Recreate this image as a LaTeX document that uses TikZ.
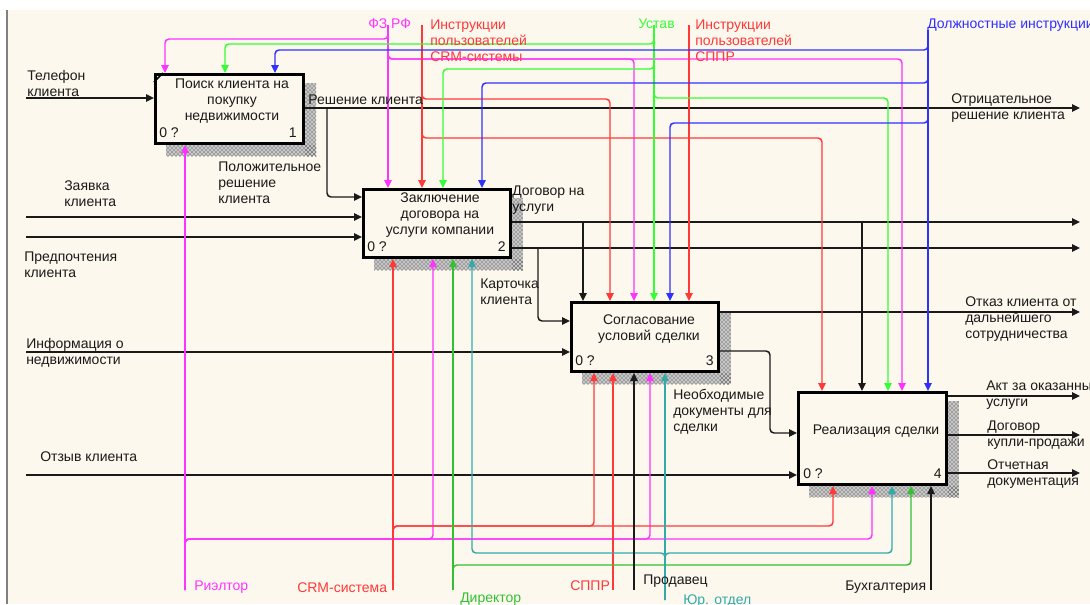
\documentclass[tikz,border=0pt]{standalone}
\usepackage{fontspec}
\usetikzlibrary{arrows.meta,calc,patterns}
\newfontfamily\lsans{Liberation Sans}
\newcommand\labfont{\lsans\fontsize{10.5pt}{12pt}\selectfont}
\definecolor{cream}{HTML}{FDF8EE}
\definecolor{cmag}{HTML}{FF33FF}
\definecolor{cred}{HTML}{FF3838}
\definecolor{cgreen}{HTML}{33FF33}
\definecolor{cdgreen}{HTML}{33C033}
\definecolor{cteal}{HTML}{33AAAA}
\definecolor{cblue}{HTML}{3030FF}
\definecolor{cink}{HTML}{1A1A1A}
\pgfdeclarelayer{background}
\pgfsetlayers{background,main}
\tikzset{
  box/.style={draw=black, line width=2.25pt, anchor=north west, inner sep=0pt},
  btxt/.style={font=\labfont, text=cink, align=center, inner sep=0pt},
  lbl/.style={font=\labfont, text=cink, align=left, inner sep=0pt, anchor=base west},
  numl/.style={font=\labfont, text=cink, inner sep=0pt, anchor=base west},
  numr/.style={font=\labfont, text=cink, inner sep=0pt, anchor=base east},
  flow/.style={line width=1.1pt, rounded corners=3pt},
  arr/.style={flow, -{Triangle[length=6pt,width=5.5pt]}},
  shadebase/.style={fill=gray!45},
  shade/.style={pattern=crosshatch dots, pattern color=black!85},
}
\begin{document}
\begin{tikzpicture}[x=0.75pt,y=-0.75pt]
\useasboundingbox (0,0) rectangle (1090,604);

% boxes
\node[box, minimum width=111pt, minimum height=51.75pt] (b1) at (154,73) {};
\node[box, minimum width=110.25pt, minimum height=51pt] (b2) at (362,188) {};
\node[box, minimum width=110.25pt, minimum height=51.75pt] (b3) at (570,301) {};
\node[box, minimum width=111pt, minimum height=69pt] (b4) at (797,391) {};

\begin{pgfonlayer}{background}
  \fill[white] (0,0) rectangle (1090,604);
  \fill[cream] (7,10) rectangle (1090,604);
  \draw[gray, line width=0.8pt] (7,10) -- (7,604);
  \foreach \b in {b1,b2,b3,b4}{
    \fill[shadebase] ($(\b.north east)+(0,10)$) rectangle ($(\b.south east)+(11,11)$);
    \fill[shadebase] ($(\b.south west)+(12,0)$) rectangle ($(\b.south east)+(11,11)$);
    \fill[shade] ($(\b.north east)+(0,10)$) rectangle ($(\b.south east)+(11,11)$);
    \fill[shade] ($(\b.south west)+(12,0)$) rectangle ($(\b.south east)+(11,11)$);
    \fill[cream] (\b.north west) rectangle (\b.south east);
  }
\end{pgfonlayer}
\draw[line width=1.2pt] ($(b1.north west)+(0,9)$) -- ($(b1.north west)+(9,0)$);

% box texts
\node[btxt] (t1) at (232,101) {Поиск клиента на\\покупку\\недвижимости};
\node[btxt] (t2) at (440,215) {Заключение\\договора на\\услуги компании};
\node[btxt] (t3) at (649,329) {Согласование\\условий сделки};
\node[btxt] (t4) at (876,431) {Реализация сделки};
\node[numl] (n1a) at (159,137) {0 ?};
\node[numr] (n1b) at (297,137) {1};
\node[numl] (n2a) at (367,251) {0 ?};
\node[numr] (n2b) at (506,251) {2};
\node[numl] (n3a) at (575,365) {0 ?};
\node[numr] (n3b) at (714,365) {3};
\node[numl] (n4a) at (803,478) {0 ?};
\node[numr] (n4b) at (942,478) {4};

% free ends
\coordinate (inTel) at (26,98);
\coordinate (inZ) at (26,217);
\coordinate (inP) at (26,237);
\coordinate (inInf) at (26,352);
\coordinate (inOtz) at (26,475);
\coordinate (outNeg) at (1080,108);
\coordinate (outD) at (1080,222);
\coordinate (outK) at (1080,248);
\coordinate (outOtk) at (1080,312);
\coordinate (outAkt) at (1080,396);
\coordinate (outDog) at (1080,435);
\coordinate (outOtch) at (1080,473);
\coordinate (cFZ) at (388,25);
\coordinate (cCRM) at (422,25);
\coordinate (cUst) at (654,25);
\coordinate (cSPPRi) at (689,25);
\coordinate (cDI) at (928,30);
\coordinate (mR) at (185,590);
\coordinate (mCRM) at (393,590);
\coordinate (mDir) at (453,590);
\coordinate (mSPPR) at (613,590);
\coordinate (mProd) at (634,590);
\coordinate (mJur) at (665,600);
\coordinate (mBuh) at (931,590);
\coordinate (j1) at (327,108);
\coordinate (j2) at (583,222);
\coordinate (j3) at (862,222);
\coordinate (j4) at (538,248);

% black inputs / outputs
\begin{scope}[cink]
\draw[arr] (inTel) -- (inTel -| b1.west);
\draw[arr] (b1.east |- outNeg) -- (outNeg);
\draw[arr] (j1) -- (327,197) -- (b2.west |- 0,197);
\draw[arr] (inZ) -- (inZ -| b2.west);
\draw[arr] (inP) -- (inP -| b2.west);
\draw[arr] (b2.east |- outD) -- (outD);
\draw[arr] (b2.east |- outK) -- (outK);
\draw[arr] (j2) -- (b3.north -| j2);
\draw[arr] (j3) -- (b4.north -| j3);
\draw[arr] (j4) -- (538,321) -- (b3.west |- 0,321);
\draw[arr] (inInf) -- (inInf -| b3.west);
\draw[arr] (b3.east |- outOtk) -- (outOtk);
\draw[arr] (b3.east |- 0,351) -- (770,351) -- (770,433) -- (b4.west |- 0,433);
\draw[arr] (inOtz) -- (inOtz -| b4.west);
\draw[arr] (b4.east |- outAkt) -- (outAkt);
\draw[arr] (b4.east |- outDog) -- (outDog);
\draw[arr] (b4.east |- outOtch) -- (outOtch);
\end{scope}

% controls
\begin{scope}[cmag]
\draw[arr] (cFZ) -- (cFZ |- b2.north);
\draw[arr] (cFZ) -- (388,39) -- (165,39) -- (b1.north -| 165,0);
\draw[arr] (cFZ) -- (388,59) -- (634,59) -- (b3.north -| 634,0);
\draw[arr] (cFZ) -- (388,59) -- (902,59) -- (b4.north -| 902,0);
\end{scope}
\begin{scope}[cred]
\draw[arr] (cCRM) -- (cCRM |- b2.north);
\draw[arr] (cCRM) -- (422,99) -- (610,99) -- (b3.north -| 610,0);
\draw[arr] (cCRM) -- (422,138) -- (822,138) -- (b4.north -| 822,0);
\draw[arr] (cSPPRi) -- (cSPPRi |- b3.north);
\end{scope}
\begin{scope}[cgreen]
\draw[arr] (cUst) -- (cUst |- b3.north);
\draw[arr] (cUst) -- (654,44) -- (225,44) -- (b1.north -| 225,0);
\draw[arr] (cUst) -- (654,69) -- (443,69) -- (b2.north -| 443,0);
\draw[arr] (cUst) -- (654,98) -- (888,98) -- (b4.north -| 888,0);
\end{scope}
\begin{scope}[cblue]
\draw[arr] (cDI) -- (cDI |- b4.north);
\draw[arr] (cDI) -- (928,50) -- (275,50) -- (b1.north -| 275,0);
\draw[arr] (cDI) -- (928,83) -- (482,83) -- (b2.north -| 482,0);
\draw[arr] (cDI) -- (928,123) -- (670,123) -- (b3.north -| 670,0);
\end{scope}

% mechanisms
\begin{scope}[cmag]
\draw[arr] (mR) -- (mR |- b1.south);
\draw[arr] (mR) -- (185,539) -- (433,539) -- (b2.south -| 433,0);
\draw[arr] (mR) -- (185,539) -- (650,539) -- (b3.south -| 650,0);
\draw[arr] (mR) -- (185,539) -- (872,539) -- (b4.south -| 872,0);
\end{scope}
\begin{scope}[cred]
\draw[arr] (mCRM) -- (mCRM |- b2.south);
\draw[arr] (mCRM) -- (393,526) -- (594,526) -- (b3.south -| 594,0);
\draw[arr] (mCRM) -- (393,526) -- (833,526) -- (b4.south -| 833,0);
\draw[arr] (mSPPR) -- (mSPPR |- b3.south);
\end{scope}
\begin{scope}[cdgreen]
\draw[arr] (mDir) -- (mDir |- b2.south);
\draw[arr] (mDir) -- (453,565) -- (911,565) -- (b4.south -| 911,0);
\end{scope}
\begin{scope}[cteal]
\draw[arr] (mJur) -- (mJur |- b3.south);
\draw[arr] (mJur) -- (665,553) -- (472,553) -- (b2.south -| 472,0);
\draw[arr] (mJur) -- (665,553) -- (892,553) -- (b4.south -| 892,0);
\end{scope}
\begin{scope}[cink]
\draw[arr] (mProd) -- (mProd |- b3.south);
\draw[arr] (mBuh) -- (mBuh |- b4.south);
\end{scope}

% labels (base = baseline of last line)
\node[lbl] (lTel) at (27,96) {Телефон\\клиента};
\node[lbl] (lZ) at (64,206) {Заявка\\клиента};
\node[lbl] (lP) at (24,277) {Предпочтения\\клиента};
\node[lbl] (lPos) at (218,203) {Положительное\\решение\\клиента};
\node[lbl] (lInf) at (26,364) {Информация о\\недвижимости};
\node[lbl] (lOtz) at (40,461) {Отзыв клиента};
\node[lbl] (lRes) at (308,104) {Решение клиента};
\node[lbl] (lDog) at (512,211) {Договор на\\услуги};
\node[lbl] (lKar) at (480,304) {Карточка\\клиента};
\node[lbl] (lNeo) at (673,431) {Необходимые\\документы для\\сделки};
\node[lbl] (lNeg) at (951,119) {Отрицательное\\решение клиента};
\node[lbl] (lOtk) at (965,338) {Отказ клиента от\\дальнейшего\\сотрудничества};
\node[lbl] (lAkt) at (986,406) {Акт за оказанные\\услуги};
\node[lbl] (lKP) at (987,446) {Договор\\купли-продажи};
\node[lbl] (lOtch) at (987,485) {Отчетная\\документация};

\node[lbl, text=cmag] (lFZ) at (368,28) {ФЗ РФ};
\node[lbl, text=cred] (lCRMi) at (430,61) {Инструкции\\пользователей\\CRM-системы};
\node[lbl, text=cgreen] (lUst) at (638,28) {Устав};
\node[lbl, text=cred] (lSPPRi) at (695,61) {Инструкции\\пользователей\\СППР};
\node[lbl, text=cblue] (lDI) at (927,28) {Должностные инструкции};

\node[lbl, text=cmag] (lR) at (194,590) {Риэлтор};
\node[lbl, text=cred] (lCRM) at (297,592) {CRM-система};
\node[lbl, text=cdgreen] (lDir) at (460,602) {Директор};
\node[lbl, text=cred] (lSPPR) at (570,590) {СППР};
\node[lbl] (lProd) at (643,584) {Продавец};
\node[lbl, text=cteal] (lJur) at (683,604) {Юр. отдел};
\node[lbl] (lBuh) at (845,590) {Бухгалтерия};
\end{tikzpicture}
\end{document}
